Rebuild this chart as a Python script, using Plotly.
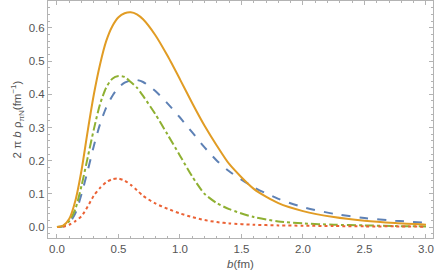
import plotly.graph_objects as go

b = [0, 0.05, 0.1, 0.15, 0.2, 0.25, 0.3, 0.35, 0.4, 0.45, 0.5, 0.55, 0.6, 0.65, 0.7,
     0.8, 0.9, 1.0, 1.1, 1.2, 1.3, 1.4, 1.6, 1.8, 2.0, 2.25, 2.5, 2.75, 3.0]

orange = [0, 0.004, 0.025, 0.08, 0.172, 0.29, 0.40, 0.49, 0.56, 0.605, 0.632, 0.644, 0.647,
          0.641, 0.626, 0.578, 0.515, 0.445, 0.373, 0.305, 0.245, 0.19, 0.115, 0.072, 0.048,
          0.030, 0.019, 0.012, 0.007]
blue = [0, 0.002, 0.012, 0.042, 0.10, 0.17, 0.245, 0.31, 0.36, 0.395, 0.42, 0.435, 0.442,
        0.443, 0.437, 0.41, 0.372, 0.33, 0.285, 0.24, 0.20, 0.168, 0.12, 0.085, 0.06,
        0.04, 0.027, 0.019, 0.013]
green = [0, 0.003, 0.018, 0.055, 0.125, 0.21, 0.295, 0.37, 0.42, 0.447, 0.455, 0.452, 0.437,
         0.42, 0.395, 0.34, 0.278, 0.215, 0.152, 0.100, 0.072, 0.054, 0.030, 0.017, 0.011,
         0.007, 0.005, 0.003, 0.002]
red = [0, 0.001, 0.007, 0.018, 0.033, 0.062, 0.095, 0.118, 0.135, 0.144, 0.146, 0.140, 0.127,
       0.111, 0.094, 0.071, 0.055, 0.041, 0.030, 0.021, 0.015, 0.011, 0.007, 0.005, 0.004,
       0.003, 0.002, 0.002, 0.001]

xticks = [0.0, 0.5, 1.0, 1.5, 2.0, 2.5, 3.0]
yticks = [0.0, 0.1, 0.2, 0.3, 0.4, 0.5, 0.6]

fig = go.Figure()
series = [
    (blue, "#5E81B5", "dash"),
    (green, "#8FB032", "dashdot"),
    (red, "#EB6235", "dot"),
    (orange, "#E19C24", "solid"),
]
for ys, col, dash in series:
    fig.add_trace(go.Scatter(x=b, y=ys, mode="lines",
                             line=dict(color=col, width=2, dash=dash, shape="spline", smoothing=0.7),
                             showlegend=False, hoverinfo="skip"))

axcol = "#B3B3B3"
fontcol = "#555555"
fig.update_layout(
    width=436, height=280,
    margin=dict(l=48, r=3, t=1, b=42),
    paper_bgcolor="white", plot_bgcolor="white",
    font=dict(family="Liberation Sans", size=11.5, color=fontcol),
    xaxis=dict(range=[-0.073, 3.057], tickvals=xticks, ticktext=[f"{v:.1f}" for v in xticks],
               showgrid=False, zeroline=False, showline=True, linecolor=axcol, linewidth=1,
               mirror="ticks", ticks="inside", ticklen=4, tickcolor=axcol,
               minor=dict(dtick=0.1, tick0=0, ticks="inside", ticklen=2, tickcolor=axcol),
               title=dict(text="<i>b</i>(fm)", standoff=6, font=dict(size=11.5, color=fontcol))),
    yaxis=dict(range=[-0.033, 0.681], tickvals=yticks, ticktext=[f"{v:.1f}" for v in yticks],
               showgrid=False, zeroline=False, showline=True, linecolor=axcol, linewidth=1,
               mirror="ticks", ticks="inside", ticklen=4, tickcolor=axcol,
               minor=dict(dtick=0.02, tick0=0, ticks="inside", ticklen=2, tickcolor=axcol),
               title=dict(text="2 π <i>b</i> ρ<sub>πN</sub>(fm<sup>−1</sup>)", standoff=4,
                          font=dict(size=11.5, color=fontcol))),
)

fig.write_html("out.html", config={"displayModeBar": False},
               post_script="document.body.style.margin='0px';")
